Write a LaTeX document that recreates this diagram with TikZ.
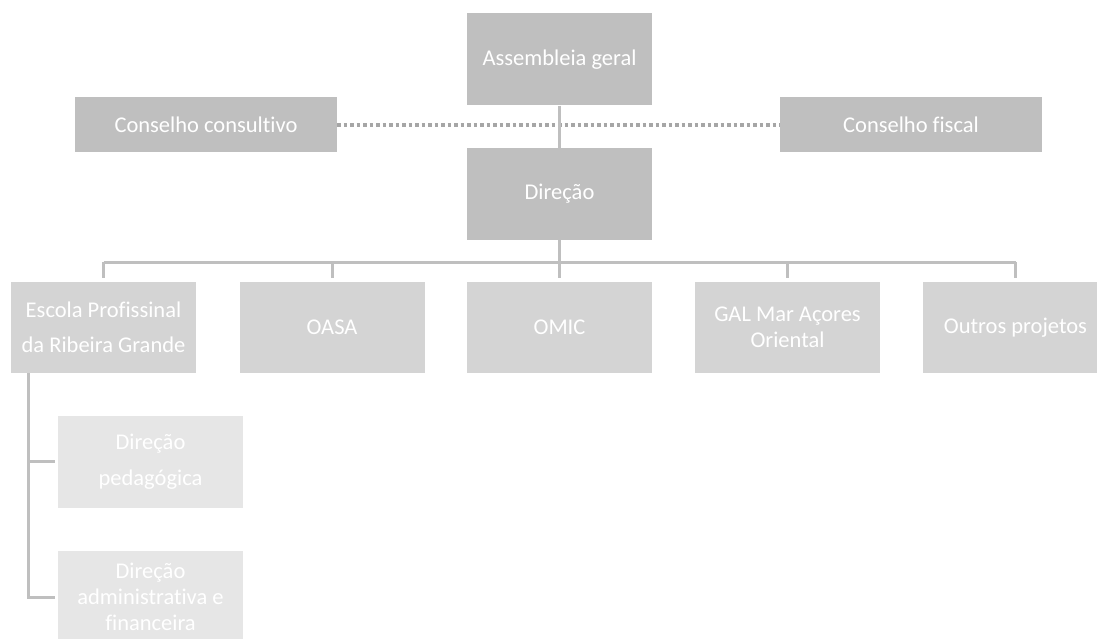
\documentclass[tikz,border=0pt]{standalone}
\usepackage{fontspec}
\setmainfont{Carlito}[Ligatures=NoCommon]
\definecolor{boxdark}{HTML}{BFBFBF}
\definecolor{boxmid}{HTML}{D4D4D4}
\definecolor{boxlight}{HTML}{E6E6E6}
\definecolor{linegray}{HTML}{BFBFBF}
\definecolor{dotgray}{HTML}{A6A6A6}
\tikzset{
    orgbox/.style={inner sep=0pt, text=white, align=center, font=\fontsize{22.5}{26}\selectfont},
    topbox/.style={orgbox, fill=boxdark, minimum width=185pt, minimum height=92pt},
    sidebox/.style={orgbox, fill=boxdark, minimum width=262pt, minimum height=55pt},
    midbox/.style={orgbox, fill=boxmid, minimum width=185pt, minimum height=91pt},
    subbox/.style={orgbox, fill=boxlight, minimum width=185pt, minimum height=92pt},
    link/.style={draw=linegray, line width=3pt},
    dotlink/.style={draw=dotgray, line width=3.5pt, dash pattern=on 3.5pt off 3pt}
}
\begin{document}
\begin{tikzpicture}[x=1pt,y=-1pt]
    \useasboundingbox (0,0) rectangle (1097,639);
    % top level
    \node[topbox] (ag) at (559.5,59.5) {Assembleia geral};
    \node[topbox] (dir) at (559.5,194) {Direção};
    \node[sidebox] (cc) at (206,125) {Conselho consultivo};
    \node[sidebox] (cf) at (911,125) {Conselho fiscal};
    \draw[dotlink] (cc.east) -- (cf.west);
    \draw[link] (ag.south) -- (dir.north);
    % second level
    \node[midbox, font=\fontsize{22.5}{35}\selectfont] (esc) at (103.5,327.5) {Escola Profissinal\\da Ribeira Grande};
    \node[midbox] (oasa) at (332,327.5) {OASA};
    \node[midbox] (omic) at (559.5,327.5) {OMIC};
    \node[midbox] (gal) at (787.5,327.5) {GAL Mar Açores\\Oriental};
    \node[midbox] (outros) at (1015.5,327.5) {Outros projetos};
    \coordinate (bus) at (559.5,262);
    \draw[link] (esc.north |- bus) -- (outros.north |- bus);
    \draw[link, shorten >=4pt] (dir.south) -- (omic.north);
    \foreach \n in {esc,oasa,gal,outros}
        \draw[link, shorten <=4pt] (\n.north) -- (\n.north |- bus);
    % third level
    \node[subbox, font=\fontsize{22.5}{36}\selectfont] (ped) at (150.5,461.5) {Direção\\pedagógica};
    \node[subbox] (adm) at (150.5,597) {Direção\\administrativa e\\financeira};
    \coordinate (spine) at (28,373);
    \draw[link, shorten >=3pt] (spine) |- (ped.west);
    \draw[link, shorten >=3pt] (spine) |- (adm.west);
\end{tikzpicture}
\end{document}
